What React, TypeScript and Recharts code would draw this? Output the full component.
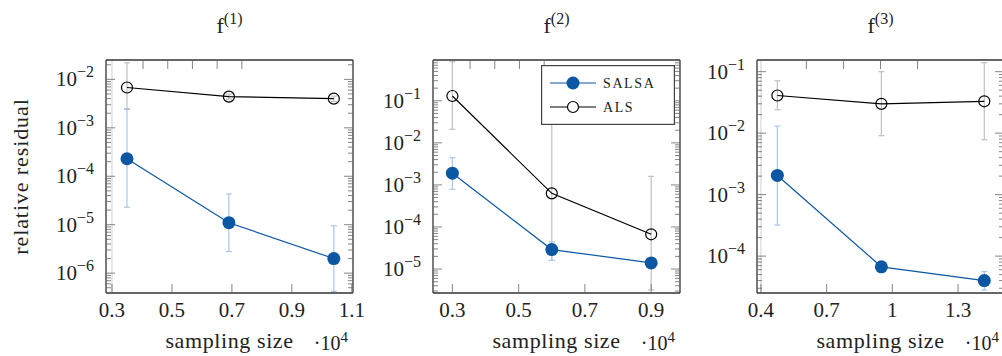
import React from 'react';
import { LineChart, Line, XAxis, YAxis, ErrorBar, Legend, ReferenceLine } from 'recharts';

const FONT =
  "'Liberation Serif', 'Times New Roman', 'DejaVu Serif', 'Noto Serif', Tinos, 'Nimbus Roman', FreeSerif, Times, serif";
const SALSA_COLOR = '#0b57a4';
const SALSA_ERR = '#a9c6e6';
const ALS_COLOR = '#000000';
const ALS_ERR = '#c0c0c0';
const AXIS_COLOR = '#333333';
const TICK_COLOR = '#666666';
const TXT = { fontFamily: FONT };

// f(1)
const size1 = [0.35, 0.69, 1.04];
const salsa1 = [2.3e-4, 1.1e-5, 2.0e-6];
const salsaLo1 = [2.3e-5, 2.8e-6, 4.2e-7];
const salsaHi1 = [2.5e-3, 4.3e-5, 9.5e-6];
const als1 = [6.8e-3, 4.4e-3, 4.0e-3];
const alsLo1 = [2.4e-3, 3.9e-3, 3.5e-3];
const alsHi1 = [2.2e-2, 5.0e-3, 4.5e-3];
const xTicks1 = [0.3, 0.5, 0.7, 0.9, 1.1];
const yExp1 = [-6, -5, -4, -3, -2];

// f(2)
const size2 = [0.3, 0.6, 0.9];
const salsa2 = [1.9e-3, 2.9e-5, 1.4e-5];
const salsaLo2 = [7.9e-4, 1.6e-5, 1.2e-5];
const salsaHi2 = [4.4e-3, 4.4e-5, 1.6e-5];
const als2 = [0.13, 6.3e-4, 6.7e-5];
const alsLo2 = [2.1e-2, 1.6e-5, 3.2e-6];
const alsHi2 = [0.85, 0.3, 1.6e-3];
const xTicks2 = [0.3, 0.5, 0.7, 0.9];
const yExp2 = [-5, -4, -3, -2, -1];

// f(3)
const size3 = [0.475, 0.95, 1.42];
const salsa3 = [2.05e-3, 6.7e-5, 4.0e-5];
const salsaLo3 = [3.2e-4, 6.0e-5, 2.8e-5];
const salsaHi3 = [1.3e-2, 7.4e-5, 5.6e-5];
const als3 = [0.041, 0.03, 0.033];
const alsLo3 = [0.024, 9.1e-3, 7.8e-3];
const alsHi3 = [0.071, 0.1, 0.14];
const xTicks3 = [0.4, 0.7, 1, 1.3];
const yExp3 = [-4, -3, -2, -1];

const buildRows = (size, salsa, salsaLo, salsaHi, als, alsLo, alsHi) =>
  size.map((x, i) => ({
    x,
    salsa: salsa[i],
    salsaErr: [salsa[i] - salsaLo[i], salsaHi[i] - salsa[i]],
    als: als[i],
    alsErr: [als[i] - alsLo[i], alsHi[i] - als[i]],
  }));

// major decades plus 2..9 minor ticks inside the domain
const logTicks = (exps: number[], domain: number[]) => {
  const out: number[] = [];
  for (let e = exps[0] - 1; e <= exps[exps.length - 1] + 1; e++) {
    for (let m = 1; m <= 9; m++) {
      const v = m * Math.pow(10, e);
      if (v >= domain[0] && v <= domain[1]) out.push(v);
    }
  }
  return out;
};

const isMajor = (v: number) => {
  const e = Math.log10(v);
  return Math.abs(e - Math.round(e)) < 1e-6;
};

const LeftTick = (props: any) => {
  const { x, y, payload } = props;
  const major = isMajor(payload.value);
  const e = Math.round(Math.log10(payload.value));
  return (
    <g>
      <line x1={x} x2={x + (major ? 9 : 5)} y1={y} y2={y} stroke={TICK_COLOR} strokeWidth={0.8} />
      {major && (
        <text x={x - 12} y={y + 7} textAnchor="end" style={TXT} fontSize={21} fill="#222">
          10
          <tspan dy={-9} fontSize={16}>{'\u2212' + Math.abs(e)}</tspan>
        </text>
      )}
    </g>
  );
};

const RightTick = (props: any) => {
  const { x, y, payload } = props;
  const major = isMajor(payload.value);
  return <line x1={x} x2={x - (major ? 9 : 5)} y1={y} y2={y} stroke={TICK_COLOR} strokeWidth={0.8} />;
};

const BottomTick = (props: any) => {
  const { x, y, payload } = props;
  return (
    <g>
      <line x1={x} x2={x} y1={y} y2={y - 9} stroke={TICK_COLOR} strokeWidth={0.8} />
      <text x={x} y={y + 24} textAnchor="middle" style={TXT} fontSize={21} fill="#222">
        {String(payload.value)}
      </text>
    </g>
  );
};

const TopTick = (props: any) => {
  const { x, y } = props;
  return <line x1={x} x2={x} y1={y} y2={y + 9} stroke={TICK_COLOR} strokeWidth={0.8} />;
};

const XLabel = (props: any) => {
  const { x, y, width } = props.viewBox;
  return (
    <g fill="#222">
      <text x={x + width / 2} y={y + 55} textAnchor="middle" style={TXT} fontSize={22} letterSpacing={0.6}>
        sampling size
      </text>
      <text x={x + width - 5} y={y + 57} textAnchor="end" style={TXT} fontSize={20}>
        {'\u00b710'}
        <tspan dy={-8} fontSize={15}>4</tspan>
      </text>
    </g>
  );
};

const makeTitle = (n: number) => (props: any) => {
  const { x, y, width, height } = props.viewBox;
  return (
    <text x={x + width / 2} y={y + height - 27} textAnchor="middle" style={TXT} fontSize={22} fill="#222">
      f
      <tspan dy={-9} fontSize={16}>{'(' + n + ')'}</tspan>
    </text>
  );
};

const YLabel = (props: any) => {
  const { x, y, width, height } = props.viewBox;
  const cx = x + width - 78;
  const cy = y + height / 2;
  return (
    <text
      x={cx}
      y={cy}
      transform={`rotate(-90, ${cx}, ${cy})`}
      textAnchor="middle"
      style={TXT}
      fontSize={22}
      letterSpacing={0.9}
      fill="#222"
    >
      relative residual
    </text>
  );
};

const LegendBox = (props: any) => {
  const payload = props.payload || [];
  return (
    <svg width={134} height={60} style={{ display: 'block' }}>
      <rect x={0.6} y={0.6} width={132.8} height={58.8} fill="#fff" stroke="#444" strokeWidth={1.2} />
      {payload.map((entry: any, i: number) => {
        const cy = 18 + i * 24;
        const filled = entry.dataKey === 'salsa';
        return (
          <g key={entry.value}>
            <line x1={9} x2={55} y1={cy} y2={cy} stroke={entry.color} strokeWidth={1.2} />
            {filled ? (
              <circle cx={32} cy={cy} r={6.5} fill={entry.color} />
            ) : (
              <circle cx={32} cy={cy} r={5.5} fill="#fff" stroke={entry.color} strokeWidth={1.2} />
            )}
            <text x={62} y={cy + 5} style={TXT} fontSize={14} letterSpacing={1.6} fill="#222">
              {entry.value}
            </text>
          </g>
        );
      })}
    </svg>
  );
};

const panels = [
  {
    n: 1,
    left: 0,
    width: 380,
    margin: { top: 50, right: 17, bottom: 33, left: 46 },
    rows: buildRows(size1, salsa1, salsaLo1, salsaHi1, als1, alsLo1, alsHi1),
    xDomain: [0.28, 1.104],
    xTicks: xTicks1,
    yDomain: [Math.pow(10, -6.41), Math.pow(10, -1.6)],
    yExp: yExp1,
    yLabel: true,
    legend: false,
    guide: 0.3,
  },
  {
    n: 2,
    left: 360,
    width: 340,
    margin: { top: 50, right: 10, bottom: 33, left: 13 },
    rows: buildRows(size2, salsa2, salsaLo2, salsaHi2, als2, alsLo2, alsHi2),
    xDomain: [0.2415, 0.987],
    xTicks: xTicks2,
    yDomain: [Math.pow(10, -5.57), Math.pow(10, -0.03)],
    yExp: yExp2,
    yLabel: false,
    legend: true,
    guide: null,
  },
  {
    n: 3,
    left: 690,
    width: 330,
    margin: { top: 50, right: 6, bottom: 33, left: 7 },
    rows: buildRows(size3, salsa3, salsaLo3, salsaHi3, als3, alsLo3, alsHi3),
    xDomain: [0.382, 1.51],
    xTicks: xTicks3,
    yDomain: [Math.pow(10, -4.6), Math.pow(10, -0.81)],
    yExp: yExp3,
    yLabel: false,
    legend: false,
    guide: 0.4,
  },
];

const Panel = ({ p }: { p: any }) => {
  const yTicks = logTicks(p.yExp, p.yDomain);
  return (
    <div style={{ position: 'absolute', left: p.left, top: 0 }}>
      <LineChart width={p.width} height={356} data={p.rows} margin={p.margin}>
        <XAxis
          xAxisId="bottom"
          dataKey="x"
          type="number"
          domain={p.xDomain}
          ticks={p.xTicks}
          allowDataOverflow
          interval={0}
          height={30}
          tickSize={0}
          tickMargin={0}
          tickLine={false}
          tick={<BottomTick />}
          axisLine={{ stroke: AXIS_COLOR, strokeWidth: 1.3 }}
          label={XLabel}
        />
        <XAxis
          xAxisId="top"
          orientation="top"
          type="number"
          domain={p.xDomain}
          ticks={p.xTicks}
          allowDataOverflow
          interval={0}
          height={10}
          tickSize={0}
          tickMargin={0}
          tickLine={false}
          tick={<TopTick />}
          axisLine={{ stroke: AXIS_COLOR, strokeWidth: 1.3 }}
          label={makeTitle(p.n)}
        />
        <YAxis
          yAxisId="left"
          scale="log"
          type="number"
          domain={p.yDomain}
          ticks={yTicks}
          allowDataOverflow
          interval={0}
          width={60}
          tickSize={0}
          tickMargin={0}
          tickLine={false}
          tick={<LeftTick />}
          axisLine={{ stroke: AXIS_COLOR, strokeWidth: 1.3 }}
          label={p.yLabel ? YLabel : undefined}
        />
        <YAxis
          yAxisId="right"
          orientation="right"
          scale="log"
          type="number"
          domain={p.yDomain}
          ticks={yTicks}
          allowDataOverflow
          interval={0}
          width={10}
          tickSize={0}
          tickMargin={0}
          tickLine={false}
          tick={<RightTick />}
          axisLine={{ stroke: AXIS_COLOR, strokeWidth: 1.3 }}
        />
        {p.guide !== null && (
          <ReferenceLine xAxisId="bottom" yAxisId="left" x={p.guide} stroke="#cfcfcf" strokeWidth={1} />
        )}
        <Line
          xAxisId="bottom"
          yAxisId="left"
          type="linear"
          dataKey="als"
          name="ALS"
          stroke={ALS_COLOR}
          strokeWidth={1.2}
          dot={{ r: 5.5, fill: 'none', stroke: ALS_COLOR, strokeWidth: 1.2 }}
          activeDot={false}
          isAnimationActive={false}
          legendType="circle"
        >
          <ErrorBar dataKey="alsErr" direction="y" width={3} stroke={ALS_ERR} strokeWidth={1.2} />
        </Line>
        <Line
          xAxisId="bottom"
          yAxisId="left"
          type="linear"
          dataKey="salsa"
          name="SALSA"
          stroke={SALSA_COLOR}
          strokeWidth={1.2}
          dot={{ r: 6.5, fill: SALSA_COLOR, stroke: SALSA_COLOR, strokeWidth: 0 }}
          activeDot={false}
          isAnimationActive={false}
          legendType="circle"
        >
          <ErrorBar dataKey="salsaErr" direction="y" width={3} stroke={SALSA_ERR} strokeWidth={1.2} />
        </Line>
        {p.legend && (
          <Legend
            layout="horizontal"
            verticalAlign="middle"
            align="center"
            itemSorter={(item: any) => (item.dataKey === 'salsa' ? 0 : 1)}
            content={LegendBox}
            wrapperStyle={{ left: 181, top: 65, width: 134, height: 60 }}
          />
        )}
      </LineChart>
    </div>
  );
};

const App = () => (
  <div
    style={{
      position: 'absolute',
      left: 0,
      top: 0,
      width: 1002,
      height: 356,
      overflow: 'hidden',
      background: '#fff',
      fontFamily: FONT,
    }}
  >
    {panels.map((p) => (
      <Panel key={p.n} p={p} />
    ))}
  </div>
);

export default App;
